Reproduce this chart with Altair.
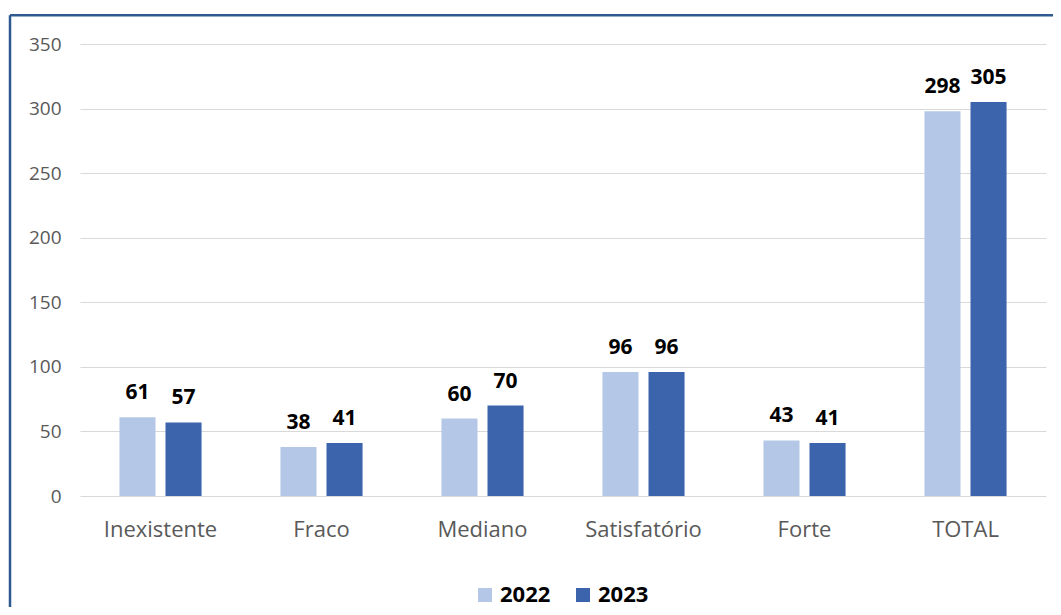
import altair as alt
import pandas as pd

categories = ["Inexistente", "Fraco", "Mediano", "Satisfatório", "Forte", "TOTAL"]
values_2022 = [61, 38, 60, 96, 43, 298]
values_2023 = [57, 41, 70, 96, 41, 305]
years = ["2022", "2023"]
colors = ["#b4c7e7", "#3c64ad"]
y_ticks = [0, 50, 100, 150, 200, 250, 300, 350]

rows = []
for c, v in zip(categories, values_2022):
    rows.append({"cat": c, "year": "2022", "value": v})
for c, v in zip(categories, values_2023):
    rows.append({"cat": c, "year": "2023", "value": v})
df = pd.DataFrame(rows)

FONT = "Open Sans"

x_enc = alt.X(
    "cat:N",
    sort=categories,
    title=None,
    scale=alt.Scale(paddingInner=0.49, paddingOuter=0.245),
    axis=alt.Axis(
        labelAngle=0, domain=False, ticks=False, tickSize=0, grid=False,
        labelFont=FONT, labelFontSize=22, labelColor="#595959", labelPadding=23,
    ),
)
xoff_enc = alt.XOffset(
    "year:N", sort=years, scale=alt.Scale(paddingInner=0.217, paddingOuter=0)
)
y_enc = alt.Y(
    "value:Q",
    title=None,
    scale=alt.Scale(domain=[0, 350], nice=False),
    axis=alt.Axis(
        values=y_ticks, domain=False, ticks=False, tickSize=0, grid=True,
        gridColor="#d9d9d9", gridWidth=1,
        labelFont=FONT, labelFontSize=19, labelColor="#595959", labelPadding=19,
    ),
)

base = alt.Chart(df)

bars = base.mark_bar().encode(
    x=x_enc,
    xOffset=xoff_enc,
    y=y_enc,
    color=alt.Color(
        "year:N",
        sort=years,
        scale=alt.Scale(domain=years, range=colors),
        legend=alt.Legend(
            title=None, orient="none", direction="horizontal",
            legendX=394, legendY=540, padding=0,
            symbolType="square", symbolSize=196, symbolStrokeWidth=0,
            labelFont=FONT, labelFontSize=22, labelFontWeight="bold",
            labelColor="#000000", labelOffset=4, columnPadding=21,
        ),
    ),
)

labels = base.mark_text(
    font=FONT, fontSize=21, fontWeight="bold", color="#000000",
    baseline="alphabetic", dy=-18,
).encode(
    x=alt.X("cat:N", sort=categories),
    xOffset=alt.XOffset("year:N", sort=years),
    y=alt.Y("value:Q"),
    text=alt.Text("value:Q"),
)

frame_data = alt.Data(values=[{"k": 1}])
border_top = alt.Chart(frame_data).mark_rule(
    color="#2f5a91", strokeWidth=2.5
).encode(x=alt.value(-70), x2=alt.value(1100), y=alt.value(-28.7))
border_left = alt.Chart(frame_data).mark_rule(
    color="#2f5a91", strokeWidth=2.5
).encode(x=alt.value(-70), y=alt.value(-28.7), y2=alt.value(600))

chart = alt.layer(bars, labels, border_top, border_left).properties(
    width=966,
    height=452,
    padding={"left": 72, "top": 36, "right": 7, "bottom": 111},
    autosize=alt.AutoSizeParams(type="none"),
    background="#ffffff",
).configure_view(stroke=None)

chart.save("out.html", embed_options={"renderer": "svg", "actions": False})
